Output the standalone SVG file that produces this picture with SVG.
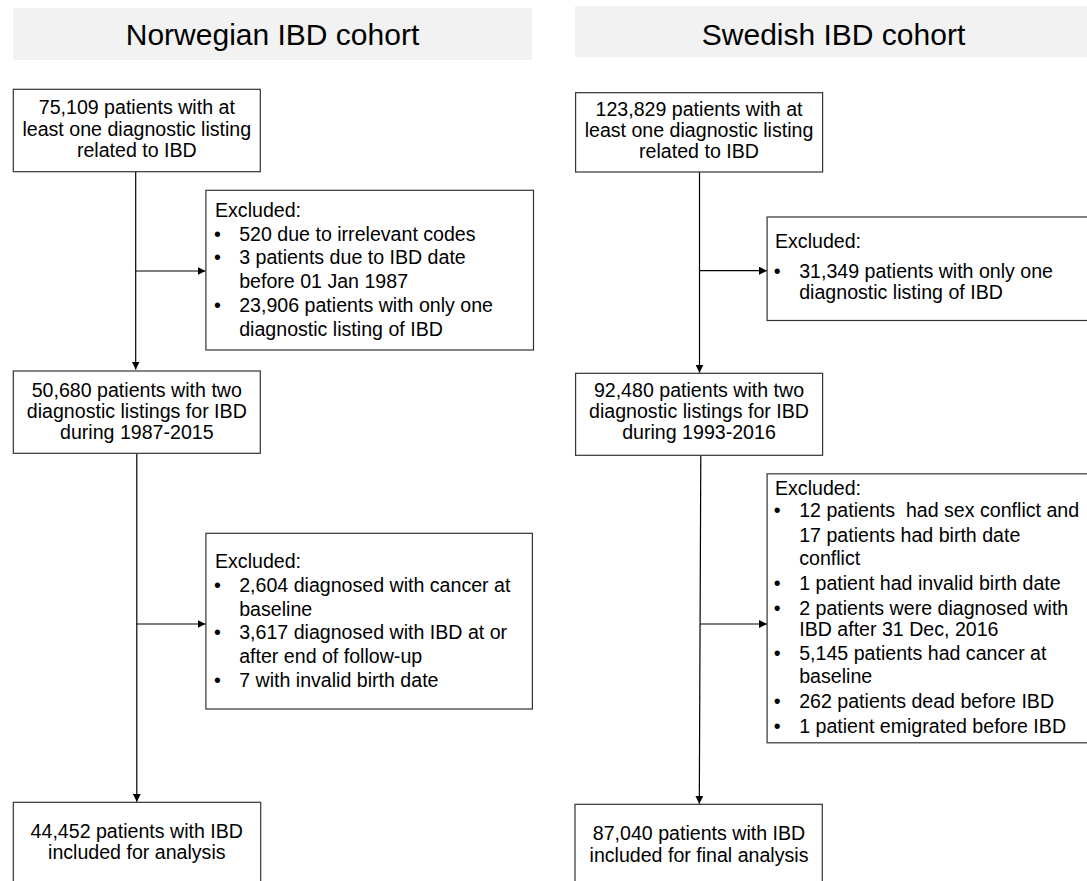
<svg xmlns="http://www.w3.org/2000/svg" width="1087" height="881" viewBox="0 0 1087 881">
<style>
text{font-family:"Liberation Sans",Arial,sans-serif;fill:#000}
.t{font-size:19.6px}
.c{text-anchor:middle}
.title{font-size:30px;text-anchor:middle}
.band{fill:#f2f2f2;stroke:none}
.box{fill:#fff;stroke:#333;stroke-width:1.2}
.ln{fill:none;stroke:#000;stroke-width:1.2}
</style>
<defs>
<marker id="ah" viewBox="0 0 10 10" refX="10" refY="5" markerWidth="8" markerHeight="8" markerUnits="userSpaceOnUse" orient="auto">
<path d="M0,0 L10,5 L0,10 Z" fill="#000"/>
</marker>
</defs>
<rect width="1087" height="881" fill="#fff"/>

<g id="title-norway">
<rect class="band" x="13" y="8" width="519" height="52"/>
<text class="title" x="272.5" y="45">Norwegian IBD cohort</text>
</g>
<g id="title-sweden">
<rect class="band" x="575" y="6" width="512" height="51"/>
<text class="title" x="833.5" y="44.5">Swedish IBD cohort</text>
</g>

<g id="connectors">
<path class="ln" d="M135.7,171.7 V369.5" marker-end="url(#ah)"/>
<path class="ln" d="M135.7,271 H205.5" marker-end="url(#ah)"/>
<path class="ln" d="M136.8,453.3 V801.8" marker-end="url(#ah)"/>
<path class="ln" d="M136.8,624 H205.5" marker-end="url(#ah)"/>
<path class="ln" d="M699.5,172 V372.8" marker-end="url(#ah)"/>
<path class="ln" d="M699.5,270.7 H767" marker-end="url(#ah)"/>
<path class="ln" d="M700.8,455.3 L699.3,803.8" marker-end="url(#ah)"/>
<path class="ln" d="M700.3,624 H767" marker-end="url(#ah)"/>
</g>

<g id="n-box1">
<rect class="box" x="13.3" y="89.3" width="247" height="82.4"/>
<text class="t c" x="136.8" y="114.3">75,109 patients with at</text>
<text class="t c" x="136.8" y="135.7">least one diagnostic listing</text>
<text class="t c" x="136.8" y="156.7">related to IBD</text>
</g>
<g id="n-excl1">
<rect class="box" x="205.9" y="190.3" width="327.6" height="159.7"/>
<text class="t" x="215" y="217.3">Excluded:</text>
<text class="t c" x="217.5" y="240.7">•</text>
<text class="t" x="239.2" y="240.7">520 due to irrelevant codes</text>
<text class="t c" x="217.5" y="264.3">•</text>
<text class="t" x="239.2" y="264.3">3 patients due to IBD date</text>
<text class="t" x="239.2" y="288.3">before 01 Jan 1987</text>
<text class="t c" x="217.5" y="312.3">•</text>
<text class="t" x="239.2" y="312.3">23,906 patients with only one</text>
<text class="t" x="239.2" y="336">diagnostic listing of IBD</text>
</g>
<g id="n-box2">
<rect class="box" x="13.3" y="371" width="247" height="82.3"/>
<text class="t c" x="136.8" y="397.3">50,680 patients with two</text>
<text class="t c" x="136.8" y="418.3">diagnostic listings for IBD</text>
<text class="t c" x="136.8" y="439">during 1987-2015</text>
</g>
<g id="n-excl2">
<rect class="box" x="205.9" y="533.3" width="326.5" height="175.7"/>
<text class="t" x="215" y="568.3">Excluded:</text>
<text class="t c" x="217.5" y="591.7">•</text>
<text class="t" x="239.2" y="591.7">2,604 diagnosed with cancer at</text>
<text class="t" x="239.2" y="615.7">baseline</text>
<text class="t c" x="217.5" y="639.3">•</text>
<text class="t" x="239.2" y="639.3">3,617 diagnosed with IBD at or</text>
<text class="t" x="239.2" y="663.3">after end of follow-up</text>
<text class="t c" x="217.5" y="687.3">•</text>
<text class="t" x="239.2" y="687.3">7 with invalid birth date</text>
</g>
<g id="n-box3">
<rect class="box" x="13.3" y="802.3" width="247.4" height="100"/>
<text class="t c" x="136.8" y="838">44,452 patients with IBD</text>
<text class="t c" x="136.8" y="859">included for analysis</text>
</g>

<g id="s-box1">
<rect class="box" x="575.6" y="92.7" width="247" height="79.3"/>
<text class="t c" x="699" y="115.7">123,829 patients with at</text>
<text class="t c" x="699" y="136.7">least one diagnostic listing</text>
<text class="t c" x="699" y="158.3">related to IBD</text>
</g>
<g id="s-excl1">
<rect class="box" x="767.1" y="217" width="340" height="103.5"/>
<text class="t" x="775" y="248.3">Excluded:</text>
<text class="t c" x="777.3" y="278.3">•</text>
<text class="t" x="799.2" y="278.3">31,349 patients with only one</text>
<text class="t" x="799.2" y="299.3">diagnostic listing of IBD</text>
</g>
<g id="s-box2">
<rect class="box" x="575.6" y="373.3" width="247" height="82"/>
<text class="t c" x="699" y="397.3">92,480 patients with two</text>
<text class="t c" x="699" y="418.3">diagnostic listings for IBD</text>
<text class="t c" x="699" y="439.3">during 1993-2016</text>
</g>
<g id="s-excl2">
<rect class="box" x="767.1" y="473.8" width="340" height="269"/>
<text class="t" x="775" y="495">Excluded:</text>
<text class="t c" x="777.3" y="517.3">•</text>
<text class="t" x="799.2" y="517.3" xml:space="preserve">12 patients  had sex conflict and</text>
<text class="t" x="799.2" y="541.7">17 patients had birth date</text>
<text class="t" x="799.2" y="565">conflict</text>
<text class="t c" x="777.3" y="590">•</text>
<text class="t" x="799.2" y="590">1 patient had invalid birth date</text>
<text class="t c" x="777.3" y="615">•</text>
<text class="t" x="799.2" y="615">2 patients were diagnosed with</text>
<text class="t" x="799.2" y="636">IBD after 31 Dec, 2016</text>
<text class="t c" x="777.3" y="660">•</text>
<text class="t" x="799.2" y="660">5,145 patients had cancer at</text>
<text class="t" x="799.2" y="683.3">baseline</text>
<text class="t c" x="777.3" y="708.3">•</text>
<text class="t" x="799.2" y="708.3">262 patients dead before IBD</text>
<text class="t c" x="777.3" y="733.3">•</text>
<text class="t" x="799.2" y="733.3">1 patient emigrated before IBD</text>
</g>
<g id="s-box3">
<rect class="box" x="575" y="804.3" width="247.3" height="100"/>
<text class="t c" x="699" y="839.5">87,040 patients with IBD</text>
<text class="t c" x="699" y="862">included for final analysis</text>
</g>
</svg>
